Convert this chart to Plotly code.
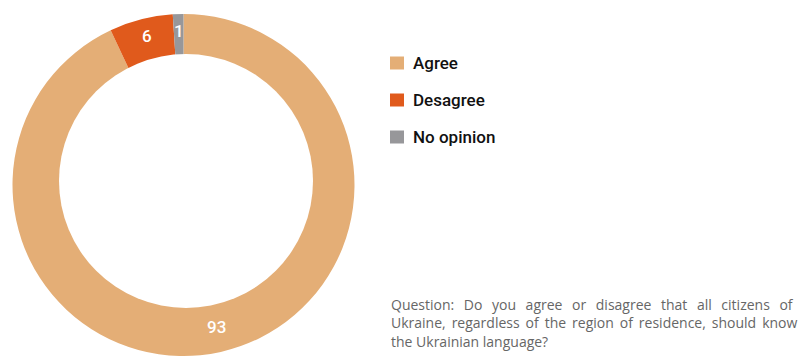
import math
import plotly.graph_objects as go

# Survey answers (percent)
categories = ["Agree", "Desagree", "No opinion"]
values = [93, 6, 1]
colors = ["#E4AE76", "#E05A1C", "#97979A"]

question_lines = [
    "Question: Do you agree or disagree that all citizens of",
    "Ukraine, regardless of the region of residence, should know",
    "the Ukrainian language?",
]

W, H = 801, 359
CX, CY, R_OUT = 183.5, 185, 171      # outer ring
HX, HY, R_IN = 186, 181, 127         # inner opening of the ring

fig = go.Figure(go.Pie(
    labels=categories,
    values=values,
    textinfo="none",
    marker=dict(colors=colors, line=dict(width=0)),
    hole=0.70,
    sort=False,
    direction="clockwise",
    rotation=0,
    showlegend=False,
    domain=dict(x=[(CX - R_OUT) / W, (CX + R_OUT) / W],
                y=[1 - (CY + R_OUT) / H, 1 - (CY - R_OUT) / H]),
))

# White opening of the ring
shapes = [dict(type="circle", xref="paper", yref="paper", layer="above",
               x0=(HX - R_IN) / W, x1=(HX + R_IN) / W,
               y0=1 - (HY + R_IN) / H, y1=1 - (HY - R_IN) / H,
               fillcolor="white", line=dict(width=0))]
annotations = []

# Value labels placed along the middle of each ring segment
total = sum(values)
LX, LY, r_lab = 184, 181, 150
cum = 0
for v in values:
    mid = (cum + v / 2) / total * 2 * math.pi
    cum += v
    px = LX + r_lab * math.sin(mid)
    py = LY - r_lab * math.cos(mid)
    annotations.append(dict(x=px / W, y=1 - py / H, xref="paper", yref="paper",
                            text=str(v), showarrow=False, xanchor="center", yanchor="middle",
                            font=dict(family="Roboto", size=17, color="white", weight=500)))

# Hand-built legend: colour squares with labels
legend_y = [63, 100, 137]
for name, col, yc in zip(categories, colors, legend_y):
    shapes.append(dict(type="rect", xref="paper", yref="paper",
                       x0=390 / W, x1=404 / W,
                       y0=1 - (yc + 6.5) / H, y1=1 - (yc - 6.5) / H,
                       fillcolor=col, line=dict(width=0)))
    annotations.append(dict(x=411 / W, y=1 - yc / H, xref="paper", yref="paper",
                            text=name, showarrow=False, xanchor="left", yanchor="middle",
                            font=dict(family="Roboto", size=17, color="#111111", weight=500)))

# Question note, first two lines stretched to the full column width
gaps = [" \u00a0\u2009", " \u2009", " "]
line_y = [304, 322.5, 341]
for line, g, yc in zip(question_lines, gaps, line_y):
    annotations.append(dict(x=389 / W, y=1 - yc / H, xref="paper", yref="paper",
                            text=line.replace(" ", g), showarrow=False,
                            xanchor="left", yanchor="middle", align="left",
                            font=dict(family="Open Sans", size=14, color="#666666")))

fig.update_layout(
    width=W, height=H,
    margin=dict(l=0, r=0, t=0, b=0),
    paper_bgcolor="white",
    plot_bgcolor="white",
    shapes=shapes,
    annotations=annotations,
)

fig.write_html("out.html")
